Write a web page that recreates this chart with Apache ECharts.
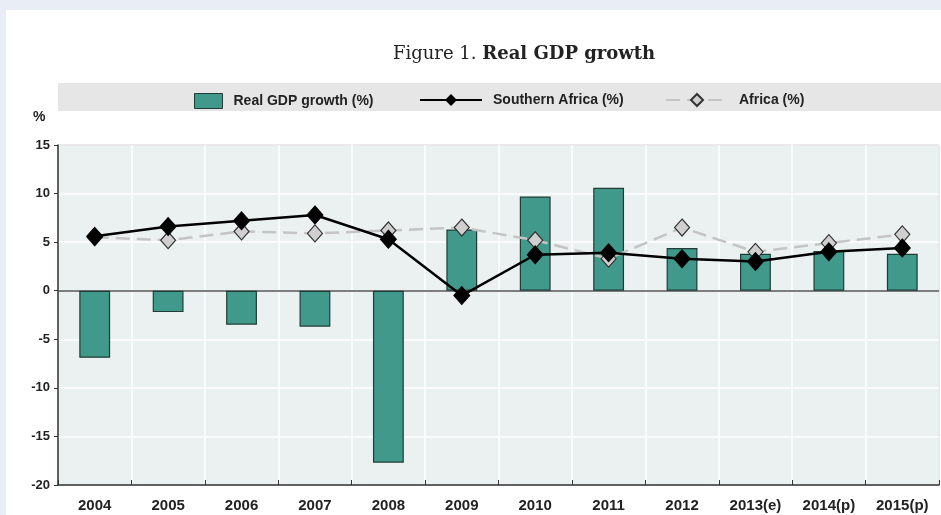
<!DOCTYPE html>
<html>
<head>
<meta charset="utf-8">
<script src="https://cdn.jsdelivr.net/npm/echarts@6/dist/echarts.min.js"></script>
<style>
  html, body { margin: 0; padding: 0; background: #e9eef6; }
  #chart { width: 941px; height: 515px; }
</style>
</head>
<body>
<div id="chart"></div>
<script>
var years = ['2004','2005','2006','2007','2008','2009','2010','2011','2012','2013(e)','2014(p)','2015(p)']
var gdpGrowth = [-6.9, -2.2, -3.5, -3.7, -17.7, 6.3, 9.7, 10.6, 4.4, 3.8, 4.1, 3.8]
var southernAfrica = [5.6, 6.6, 7.2, 7.8, 5.3, -0.5, 3.7, 3.9, 3.3, 3.0, 4.0, 4.4]
var africa = [5.5, 5.2, 6.1, 5.9, 6.2, 6.5, 5.2, 3.3, 6.5, 4.0, 4.9, 5.8]
var yTicks = [-20, -15, -10, -5, 0, 5, 10, 15]

var sans = '"Liberation Sans", Arial, sans-serif'
var serif = '"DejaVu Serif", "Liberation Serif", serif'
var chart = echarts.init(document.getElementById('chart'))

// legend text style shared by the three legend blocks
var legendText = { fontFamily: sans, fontSize: 14, fontWeight: 'bold', color: '#222', padding: [0, 0, 0, 6] }

chart.setOption({
  backgroundColor: '#e9eef6',
  animation: false,
  graphic: [
    { type: 'rect', left: 6, top: 10, shape: { width: 935, height: 505 }, style: { fill: '#ffffff' }, z: -10 },
    { type: 'rect', left: 58, top: 83, shape: { width: 883, height: 28 }, style: { fill: '#e6e6e6' }, z: -5 },
    { type: 'text', left: 33, top: 110, style: { text: '%', font: 'bold 14px ' + sans, fill: '#222' } }
  ],
  title: {
    text: '{n|Figure 1. }{b|Real GDP growth}',
    left: 388,
    top: 40,
    textStyle: {
      rich: {
        n: { fontFamily: serif, fontSize: 18, fontWeight: 'normal', color: '#222' },
        b: { fontFamily: serif, fontSize: 18, fontWeight: 'bold', color: '#222' }
      }
    }
  },
  legend: [
    {
      top: 88, left: 189, itemWidth: 28, itemHeight: 15,
      textStyle: legendText,
      data: [{ name: 'Real GDP growth (%)', icon: 'rect', itemStyle: { borderColor: '#1f3d35', borderWidth: 1 } }]
    },
    {
      top: 88, left: 414, itemWidth: 62, itemHeight: 15,
      textStyle: legendText,
      data: [{ name: 'Southern Africa (%)' }]
    },
    {
      top: 88, left: 660, itemWidth: 62, itemHeight: 15,
      textStyle: legendText,
      data: [{ name: 'Africa (%)' }]
    }
  ],
  grid: {
    left: 58, right: 2, top: 145, bottom: 30,
    show: true,
    backgroundColor: '#ebf1f1',
    borderColor: '#555',
    borderWidth: 1
  },
  xAxis: {
    type: 'category',
    data: years,
    axisLine: { onZero: false, lineStyle: { color: '#333', width: 1.5 } },
    axisTick: { show: true, inside: true, length: 5, lineStyle: { color: '#333' } },
    axisLabel: { fontFamily: sans, fontSize: 15, fontWeight: 'bold', color: '#222', margin: 13 },
    splitLine: { show: true, lineStyle: { color: '#ffffff', width: 1.5 } }
  },
  yAxis: {
    type: 'value',
    min: -20,
    max: 15,
    interval: 5,
    axisLine: { show: true, lineStyle: { color: '#333', width: 1.5 } },
    axisTick: { show: true, length: 4, lineStyle: { color: '#333' } },
    axisLabel: {
      fontFamily: sans, fontSize: 13, fontWeight: 'bold', color: '#222', margin: 8,
      customValues: yTicks
    },
    splitLine: { show: true, lineStyle: { color: '#ffffff', width: 1.5 } }
  },
  series: [
    {
      name: 'Real GDP growth (%)',
      type: 'bar',
      data: gdpGrowth,
      barWidth: '42%',
      itemStyle: { color: '#40998a', borderColor: '#1f3d35', borderWidth: 1.2 },
      markLine: {
        silent: true,
        symbol: 'none',
        label: { show: false },
        lineStyle: { color: '#555', width: 1.5, type: 'solid' },
        data: [{ yAxis: 0 }],
        z: 1
      },
      z: 2
    },
    {
      name: 'Africa (%)',
      type: 'line',
      data: africa,
      symbol: 'diamond',
      symbolSize: [15, 17],
      lineStyle: { color: '#c4c4c4', width: 2.5, type: [14, 7] },
      itemStyle: { color: '#cfcfcf', borderColor: '#333', borderWidth: 1.2 },
      z: 3
    },
    {
      name: 'Southern Africa (%)',
      type: 'line',
      data: southernAfrica,
      symbol: 'diamond',
      symbolSize: [16, 18],
      lineStyle: { color: '#000', width: 2.5 },
      itemStyle: { color: '#000', borderColor: '#000' },
      z: 4
    }
  ]
})
</script>
</body>
</html>
